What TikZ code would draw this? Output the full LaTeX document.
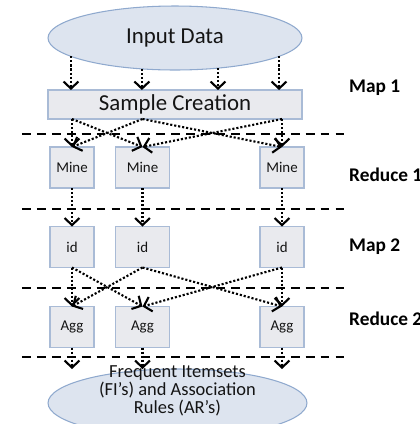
\documentclass[tikz,border=0pt]{standalone}
\usepackage{fontspec}
\setmainfont{Carlito}
\usetikzlibrary{arrows.meta,shapes.geometric}
\definecolor{boxfill}{HTML}{E9EAEE}
\definecolor{boxline}{HTML}{A9BBD6}
\definecolor{ellfill}{HTML}{DDE4EF}
\definecolor{ellline}{HTML}{8FA9CE}
\definecolor{ink}{HTML}{141414}
\tikzset{
    mr diagram/.style = {x=0.02cm, y=-0.02cm,
                         >={Straight Barb[length=4pt,width=8.5pt,line width=1.2pt]}},
    data/.style       = {ellipse, draw=ellline, semithick, fill=ellfill,
                         inner sep=0pt, outer sep=0pt, text=ink},
    block/.style      = {draw=boxline, semithick, fill=boxfill,
                         inner sep=0pt, outer sep=0pt, text=ink},
    task/.style       = {block, minimum width=0.88cm, minimum height=0.82cm,
                         font=\fontsize{8.5}{10}\selectfont},
    wtask/.style      = {task, minimum width=1.08cm},
    flow/.style       = {->, line width=1.2pt, dash pattern=on 1.2pt off 1.1pt},
    phase/.style      = {line width=1.6pt, dash pattern=on 5pt off 3.5pt},
    stage/.style      = {anchor=west, font=\fontsize{11}{13}\selectfont\bfseries}
}

\begin{document}
\begin{tikzpicture}[mr diagram]
\useasboundingbox (0,0) rectangle (420,424);

% ================= Input and sampling =================
\node[data, minimum width=5.08cm, minimum height=1.28cm,
      font=\fontsize{13}{14}\selectfont] (in) at (175,38) {Input Data};
\node[block, minimum width=5.08cm, minimum height=0.58cm,
      font=\fontsize{13}{14}\selectfont] (sc) at (175,104.5) {Sample Creation};

% ================= Mine, id and Agg tasks =================
\node[task]  (m1) at (72,167.5)  {Mine};
\node[wtask] (m2) at (142.5,167.5) {Mine};
\node[task]  (m3) at (282,167.5) {Mine};
\node[task]  (i1) at (72,247)    {id};
\node[wtask] (i2) at (142.5,247) {id};
\node[task]  (i3) at (282,247)   {id};
\node[task]  (a1) at (72,327)    {Agg};
\node[wtask] (a2) at (142.5,327) {Agg};
\node[task]  (a3) at (282,327)   {Agg};

% ================= Output =================
\node[data, minimum width=5.18cm, minimum height=1.36cm] (out) at (177.5,403) {};
\node[align=center, text=ink, font=\fontsize{10.5}{9}\selectfont] (outtxt)
    at ([yshift=0.25cm]out.center)
    {Frequent Itemsets\\(FI’s) and Association\\Rules (AR’s)};

% ================= Phase separators =================
\foreach \y [count=\k] in {134,209,288,357} {
    \coordinate (d\k l) at (22,\y);
    \coordinate (d\k r) at (350,\y);
    \draw[phase] (d\k l) -- (d\k r);
}

% ================= Phase names =================
\node[stage] (map1) at (343,88)  {Map 1};
\node[stage] (red1) at (343,175) {Reduce 1};
\node[stage] (map2) at (343,247) {Map 2};
\node[stage] (red2) at (343,319) {Reduce 2};

% ================= Input to sample =================
\foreach \a in {190.3,223.6,325,350.9}
    \draw[flow] (in.\a) -- (in.\a |- sc.north);

% ================= Sample to Mine =================
\draw[flow] (sc.south -| m1) -- (m1.north);
\draw[flow] (sc.south -| m1) -- (m2.north);
\draw[flow] (sc.south -| m2) -- (m1.north);
\draw[flow] (sc.south -| m2) -- (m3.north);
\draw[flow] (sc.south -| m3) -- (m2.north);
\draw[flow] (sc.south -| m3) -- (m3.north);

% ================= Mine to id =================
\draw[flow] (m1) -- (i1);
\draw[flow] (m2) -- (i2);
\draw[flow] (m3) -- (i3);

% ================= id to Agg =================
\draw[flow] (i1.south) -- (a1.north);
\draw[flow] (i1.south) -- (a2.north);
\draw[flow] (i2.south) -- (a1.north);
\draw[flow] (i2.south) -- (a3.north);
\draw[flow] (i3.south) -- (a2.north);
\draw[flow] (i3.south) -- (a3.north);

% ================= Agg to output =================
\draw[flow] (a1.south) -- (a1.south |- out.north);
\draw[flow] (a2.south) -- (a2.south |- out.north);
\draw[flow] (a3.south) -- (a3.south |- out.north);

\end{tikzpicture}
\end{document}
